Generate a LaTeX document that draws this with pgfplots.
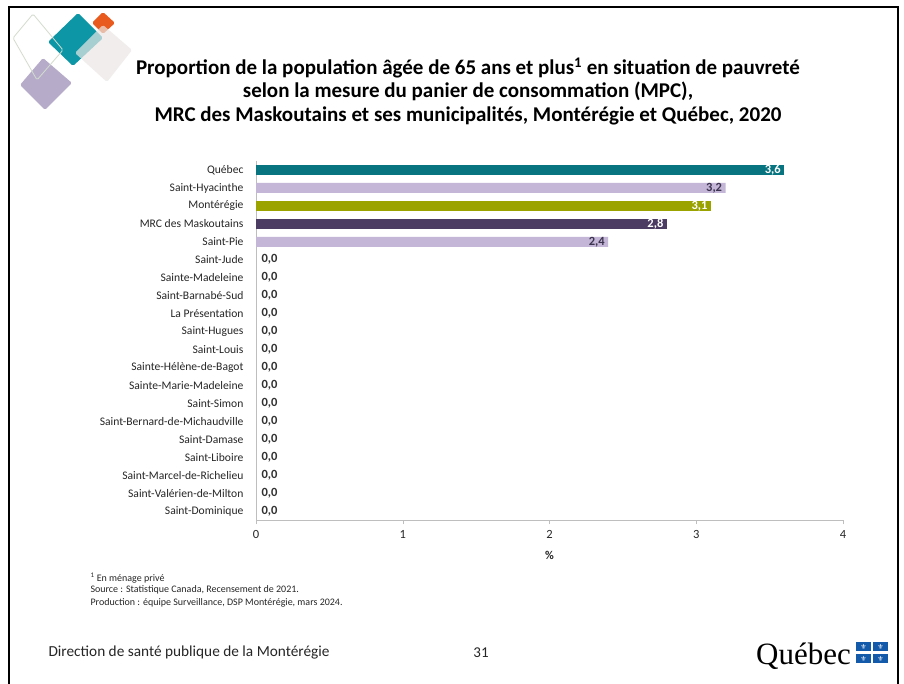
\documentclass[border=0pt]{standalone}
\usepackage{pgfplots}
\pgfplotsset{compat=1.18}
\usepackage{fontspec}
\setmainfont{Carlito}
\newfontfamily\dejavu{DejaVu Sans}
\newfontfamily\logofont{Liberation Serif}
\definecolor{teal1}{RGB}{8,116,128}
\definecolor{lav}{RGB}{196,182,214}
\definecolor{olive1}{RGB}{154,163,0}
\definecolor{dpurp}{RGB}{76,60,99}
\definecolor{labdark}{RGB}{60,52,80}
\definecolor{zerolab}{RGB}{50,50,50}
\definecolor{axgray}{RGB}{190,190,190}
\definecolor{qcblue}{RGB}{20,90,170}
\begin{document}
\begin{tikzpicture}[x=1pt,y=1pt]
\clip (0,0) rectangle (904,684);
\fill[white] (0,0) rectangle (904,684);
\path[use as bounding box] (0,0) rectangle (904,684);
% decorative diamonds
\fill[rounded corners=1.5pt, fill={rgb,255:red,232;green,90;blue,30}] (103,672) -- (115,661) -- (103,650) -- (92,661) -- cycle;
\fill[rounded corners=1.5pt, fill={rgb,255:red,12;green,150;blue,166}] (78,671) -- (103,646) -- (73,618) -- (48,642) -- cycle;
\fill[rounded corners=1.5pt, fill={rgb,255:red,234;green,230;blue,228}, opacity=0.7] (103,659) -- (132,634) -- (107,602) -- (75,631) -- cycle;
\fill[rounded corners=1.5pt, fill={rgb,255:red,182;green,172;blue,202}] (43,626) -- (72,601) -- (45,574) -- (20,599) -- cycle;
\draw[rounded corners=1.5pt, draw={rgb,255:red,210;green,220;blue,205}, line width=0.8pt] (33,670) -- (63,634) -- (37,604) -- (13,646) -- cycle;
% border
\draw[line width=2.5pt] (9,-5) -- (9,677) -- (898,677) -- (898,-5);
% title
\node[font=\fontsize{21}{24}\selectfont\bfseries] at (468,616) {Proportion de la population âgée de 65 ans et plus\textsuperscript{1} en situation de pauvreté};
\node[font=\fontsize{21}{24}\selectfont\bfseries] at (468,593) {selon la mesure du panier de consommation (MPC),};
\node[font=\fontsize{21}{24}\selectfont\bfseries] at (468,568) {MRC des Maskoutains et ses municipalités, Montérégie et Québec, 2020};
\begin{axis}[
  at={(256pt,164pt)}, anchor=south west,
  scale only axis, width=587pt, height=359pt,
  xmin=0, xmax=4, ymin=-0.5, ymax=19.5, y dir=reverse,
  axis x line=bottom, axis y line=left,
  axis line style={draw=axgray, -},
  xtick={0,1,2,3,4},
  xticklabels={0,1,2,3,4},
  tick align=outside,
  major tick length=4pt,
  x tick style={draw=axgray},
  ytick={0,...,19},
  y tick style={draw=none},
  yticklabels={Québec,Saint-Hyacinthe,Montérégie,MRC des Maskoutains,Saint-Pie,Saint-Jude,Sainte-Madeleine,Saint-Barnabé-Sud,La Présentation,Saint-Hugues,Saint-Louis,Sainte-Hélène-de-Bagot,Sainte-Marie-Madeleine,Saint-Simon,Saint-Bernard-de-Michaudville,Saint-Damase,Saint-Liboire,Saint-Marcel-de-Richelieu,Saint-Valérien-de-Milton,Saint-Dominique},
  yticklabel style={font=\fontsize{11.6}{13}\selectfont, text=black!85, xshift=-5pt},
  xticklabel style={font=\fontsize{12.5}{14}\selectfont, text=black!85, yshift=-3pt},
  xlabel={\textbf{\%}},
  xlabel style={font=\fontsize{12}{14}\selectfont, text=black!85, yshift=-6pt},
  xbar, bar width=10pt, bar shift=0pt,
  point meta=explicit symbolic,
  nodes near coords,
  nodes near coords style={font=\fontsize{12.5}{14}\selectfont\bfseries, anchor=east, xshift=0pt},
  clip=false,
]
\addplot[fill=teal1, draw=none, nodes near coords style={text=white}] coordinates {(3.6,0) [3,6]};
\addplot[fill=lav, draw=none, nodes near coords style={text=labdark}] coordinates {(3.2,1) [3,2] (2.4,4) [2,4]};
\addplot[fill=olive1, draw=none, nodes near coords style={text=white}] coordinates {(3.1,2) [3,1]};
\addplot[fill=dpurp, draw=none, nodes near coords style={text=white}] coordinates {(2.8,3) [2,8]};
\addplot[draw=none, fill=none, nodes near coords style={text=zerolab, anchor=west, xshift=2pt}] coordinates {
(0,5) [0,0] (0,6) [0,0] (0,7) [0,0] (0,8) [0,0] (0,9) [0,0] (0,10) [0,0] (0,11) [0,0] (0,12) [0,0] (0,13) [0,0] (0,14) [0,0] (0,15) [0,0] (0,16) [0,0] (0,17) [0,0] (0,18) [0,0] (0,19) [0,0]};
\end{axis}
% footnotes
\node[anchor=west, font=\fontsize{10}{12}\selectfont, text=black!85] at (87,106) {\textsuperscript{1} En ménage privé};
\node[anchor=west, font=\fontsize{10}{12}\selectfont, text=black!85] at (87,94) {Source : Statistique Canada, Recensement de 2021.};
\node[anchor=west, font=\fontsize{10}{12}\selectfont, text=black!85] at (87,81) {Production : équipe Surveillance, DSP Montérégie, mars 2024.};
% bottom
\node[anchor=west, font=\fontsize{15.3}{17}\selectfont, text=black!85] at (45,31) {Direction de santé publique de la Montérégie};
\node[font=\fontsize{15}{17}\selectfont, text=black!85] at (481,31) {31};
\node[anchor=base west, inner sep=0pt, font=\logofont\fontsize{31}{32}\selectfont] at (756,19) {Québec};
\foreach \xx in {856,873} \foreach \yy in {21,33} {
  \fill[qcblue] (\xx,\yy) rectangle ++(15,9);
  \node[text=white, inner sep=0pt, font=\dejavu\fontsize{7}{7}\selectfont] at (\xx+7.5,\yy+4.5) {⚜};
}
\end{tikzpicture}
\end{document}
